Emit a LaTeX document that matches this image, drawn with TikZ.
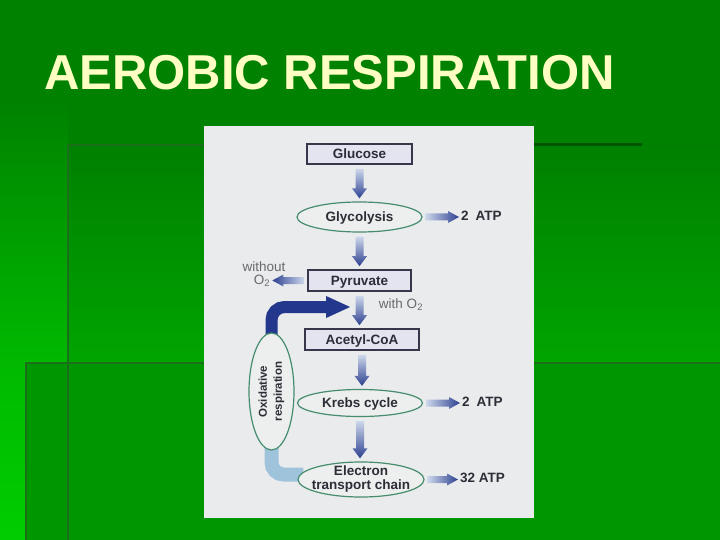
\documentclass[tikz,border=0pt]{standalone}
\usepackage{fontspec}
\setmainfont{Liberation Sans}
\usetikzlibrary{calc,shapes.geometric,arrows.meta}
\definecolor{BgTop}{RGB}{0,130,0}
\definecolor{BgLeftLow}{RGB}{0,185,0}
\definecolor{BgBright}{RGB}{0,205,0}
\definecolor{BgA1}{RGB}{0,128,0}
\definecolor{BgA2}{RGB}{0,165,0}
\definecolor{BgB}{RGB}{0,150,0}
\definecolor{EdgeLine}{RGB}{25,112,25}
\definecolor{DarkLine}{RGB}{0,85,0}
\definecolor{TitleCol}{RGB}{255,255,195}
\definecolor{Panel}{RGB}{234,235,236}
\definecolor{BoxFill}{RGB}{228,228,240}
\definecolor{BoxLine}{RGB}{55,55,75}
\definecolor{EllFill}{RGB}{236,239,237}
\definecolor{EllLine}{RGB}{70,140,110}
\definecolor{TextDark}{RGB}{45,45,55}
\definecolor{TextGray}{RGB}{105,105,110}
\definecolor{ArL}{RGB}{205,215,235}
\definecolor{ArD}{RGB}{45,65,145}
\definecolor{BigBlue}{RGB}{35,55,140}
\definecolor{LightConn}{RGB}{160,195,220}
\pgfdeclarelayer{back}
\pgfdeclarelayer{mid}
\pgfsetlayers{back,mid,main}
\tikzset{
  capcenter/.style={text height=9.7pt, text depth=0pt},
  boxstyle/.style={rectangle, draw=BoxLine, line width=1.6pt, fill=BoxFill, text=TextDark,
    font=\bfseries\fontsize{13.5}{14}\selectfont, inner sep=0pt, capcenter},
  ellstyle/.style={ellipse, draw=EllLine, line width=1.2pt, fill=EllFill, text=TextDark,
    font=\bfseries\fontsize{13.5}{14}\selectfont, inner sep=0pt},
  atpstyle/.style={anchor=west, text=TextDark, font=\bfseries\fontsize{13.5}{14}\selectfont,
    inner sep=0pt, capcenter},
  graystyle/.style={text=TextGray, font=\fontsize{13.5}{14}\selectfont, inner sep=0pt}
}
\newcommand\varrow[2]{%
  \shade[top color=ArL, bottom color=ArD] let \p1=(#1.south), \p2=(#2.north) in
  (\x1-4pt,\y1-4pt) -- (\x1+4pt,\y1-4pt) -- (\x1+4pt,\y2+13pt) -- (\x1+7.5pt,\y2+13pt)
  -- (\x1,\y2+3pt) -- (\x1-7.5pt,\y2+13pt) -- (\x1-4pt,\y2+13pt) -- cycle;}
\newcommand\harrowR[2]{%
  \shade[left color=ArL, right color=ArD] let \p1=(#1.east), \p2=(#2.west) in
  (\x1+3pt,\y1+3.5pt) -- (\x2-13pt,\y1+3.5pt) -- (\x2-13pt,\y1+6pt) -- (\x2-2pt,\y1)
  -- (\x2-13pt,\y1-6pt) -- (\x2-13pt,\y1-3.5pt) -- (\x1+3pt,\y1-3.5pt) -- cycle;}
\newcommand\harrowL[2]{%
  \shade[left color=ArD, right color=ArL] let \p1=(#1.west), \p2=(#2.east) in
  (\x1-3pt,\y1+3.5pt) -- (\x2+13pt,\y1+3.5pt) -- (\x2+13pt,\y1+6pt) -- (\x2+2pt,\y1)
  -- (\x2+13pt,\y1-6pt) -- (\x2+13pt,\y1-3.5pt) -- (\x1-3pt,\y1-3.5pt) -- cycle;}
\begin{document}
\begin{tikzpicture}[x=1pt,y=-1pt]
\useasboundingbox (0,0) rectangle (720,540);
\begin{pgfonlayer}{back}
  \fill[BgTop] (0,0) rectangle (720,540);
  \shade[top color=BgTop, bottom color=BgLeftLow] (0,100) rectangle (68,363);
  \shade[top color=BgLeftLow, bottom color=BgBright] (0,363) rectangle (25,540);
  \shade[top color=BgA1, bottom color=BgA2] (68,145) rectangle (720,363);
  \fill[BgB] (25,363) rectangle (720,540);
  \draw[EdgeLine, line width=2pt] (68,145) -- (68,540);
  \draw[EdgeLine, line width=2pt] (25,363) -- (720,363);
  \draw[EdgeLine, line width=2pt] (26,363) -- (26,540);
  \draw[EdgeLine, line width=1.5pt] (68,145) -- (534,145);
  \draw[DarkLine, line width=3pt] (534,145) -- (642,145);
  \fill[Panel] (204,126) rectangle (534,518);
\end{pgfonlayer}

\node[anchor=base west, text=TitleCol, font=\bfseries\fontsize{49}{51}\selectfont, inner sep=0pt]
  (title) at (44,90) {AEROBIC RESPIRATION};

\node[boxstyle, minimum width=105pt, minimum height=20pt] (glucose) at (359.5,154) {Glucose};
\node[ellstyle, capcenter, minimum width=125pt, minimum height=30pt] (glyc) at (359.5,217) {Glycolysis};
\node[boxstyle, minimum width=103pt, minimum height=21pt] (pyr) at (359.5,280.5) {Pyruvate};
\node[boxstyle, minimum width=114pt, minimum height=21pt] (acetyl) at (362,339.5) {Acetyl-CoA};
\node[ellstyle, capcenter, minimum width=125pt, minimum height=27pt] (krebs) at (360,403) {Krebs cycle};
\node[ellstyle, minimum width=126pt, minimum height=35pt, align=center,
  inner xsep=-6pt, inner ysep=-2pt] (etc) at (361,479.5)
  {Electron\\transport chain};
\node[ellstyle, rotate=90, minimum width=117pt, minimum height=45pt, align=center,
  font=\bfseries\fontsize{11.5}{15}\selectfont] (oxr) at (271.5,391.5) {Oxidative\\respiration};

\node[atpstyle] (atp1) at (461,216) {2\hspace{7pt}ATP};
\node[atpstyle] (atp2) at (462,402) {2\hspace{7pt}ATP};
\node[atpstyle] (atp3) at (460,478) {32 ATP};
\node[graystyle] (wo1) at (264,267) {without};
\node[graystyle] (wo2) at (262,281) {O\textsubscript{2}};
\node[graystyle] (with) at (401,305) {with O\textsubscript{2}};
\coordinate (bigtip) at (351,307);

\begin{pgfonlayer}{mid}
  \draw[BigBlue, line width=12pt, rounded corners=13pt, -{Triangle[width=20pt,length=25pt]}]
    ($(oxr.east)+(0,8)$) |- (bigtip);
  \draw[LightConn, line width=14pt, rounded corners=12pt]
    ($(oxr.west)+(0,-8)$) |- ($(etc.west)+(6,-5)$);
\end{pgfonlayer}

\varrow{glucose}{glyc}
\varrow{glyc}{pyr}
\varrow{pyr}{acetyl}
\varrow{acetyl}{krebs}
\varrow{krebs}{etc}
\harrowR{glyc}{atp1}
\harrowR{krebs}{atp2}
\harrowR{etc}{atp3}
\harrowL{pyr}{wo2}
\end{tikzpicture}
\end{document}
